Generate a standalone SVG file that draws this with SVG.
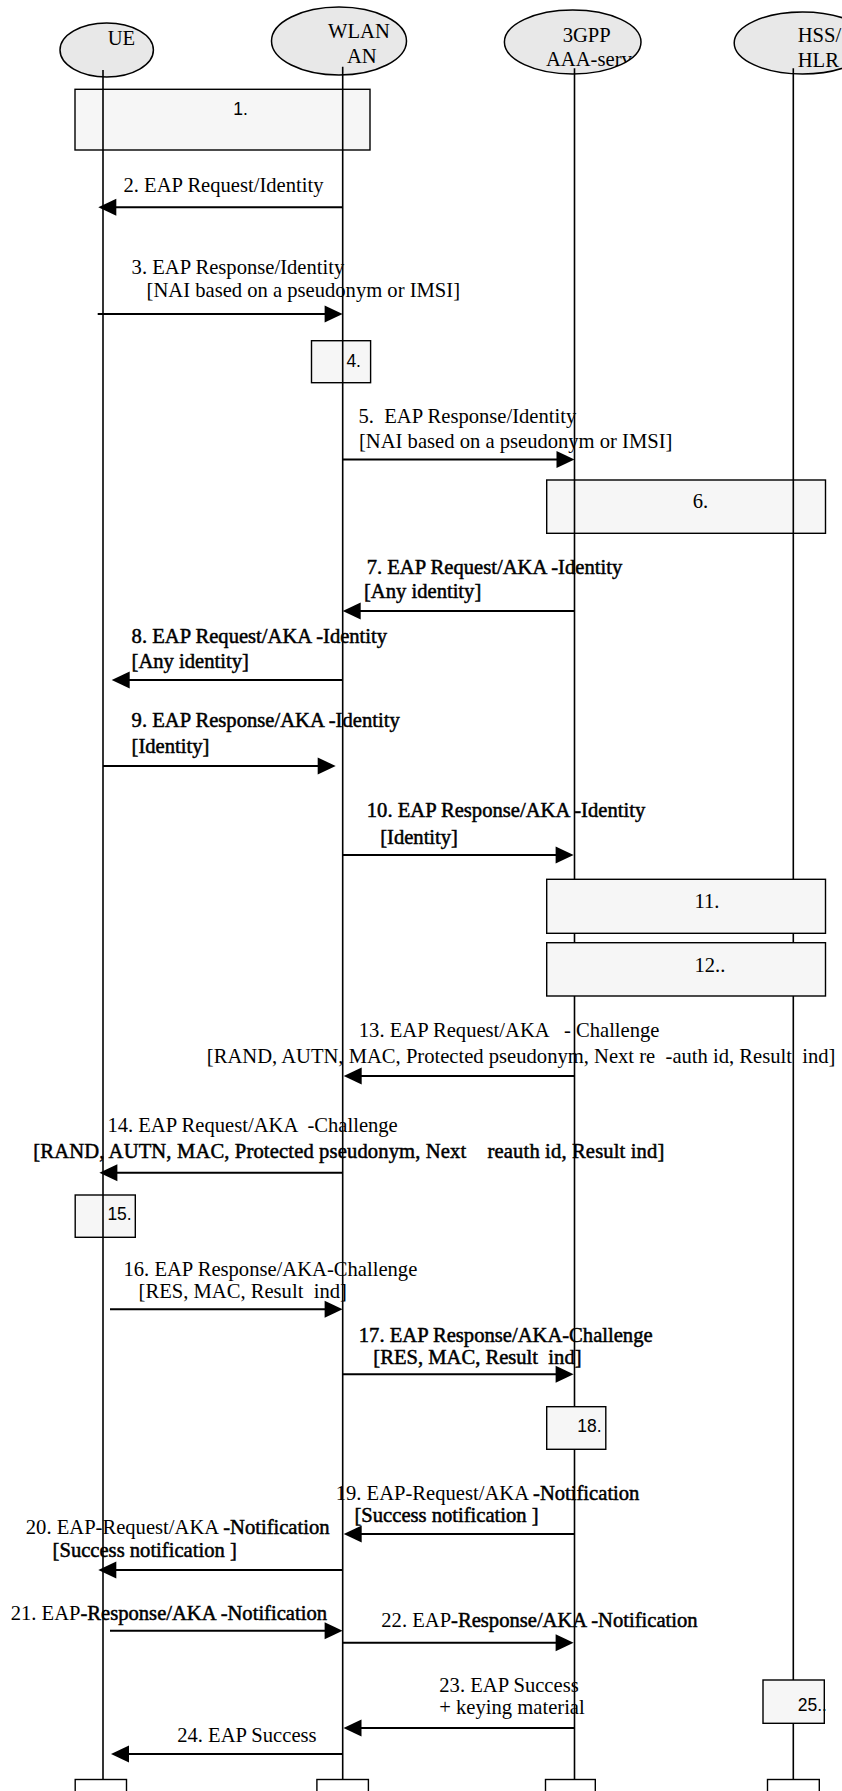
<svg xmlns="http://www.w3.org/2000/svg" width="842" height="1791" viewBox="0 0 842 1791">
<style>
text{font-family:"Liberation Serif","Times New Roman",serif;font-size:20.6px;fill:#000;white-space:pre}
.sans{font-family:"Liberation Sans",Arial,sans-serif;font-size:17.5px}
.dk{stroke:#000;stroke-width:0.5px}
.ell{fill:#e8e8e8;stroke:#000;stroke-width:1.5}
.box{fill:#f6f6f6;stroke:#000;stroke-width:1.4}
.end{fill:#fff;stroke:#000;stroke-width:1.4}
.life{stroke:#000;stroke-width:1.6;fill:none}
.msg{stroke:#000;stroke-width:2;fill:none;marker-end:url(#ah)}
</style>
<defs>
<marker id="ah" markerUnits="userSpaceOnUse" markerWidth="18" markerHeight="18" refX="8" refY="8.5" orient="auto" overflow="visible">
<path d="M0,0 L18,8.5 L0,17 Z" fill="#000"/>
</marker>
<clipPath id="cAAA"><ellipse cx="572.7" cy="42" rx="68.3" ry="32"/></clipPath>
</defs>
<rect width="842" height="1791" fill="#fff"/>

<g id="UE">
<ellipse class="ell" cx="106.7" cy="50" rx="46.7" ry="27"/>
<text x="107.7" y="45">UE</text>
</g>
<g id="WLAN_AN">
<ellipse class="ell" cx="339" cy="41" rx="67.5" ry="34"/>
<text x="328" y="38">WLAN</text>
<text x="347" y="62.7">AN</text>
</g>
<g id="AAA">
<ellipse class="ell" cx="572.7" cy="42" rx="68.3" ry="32"/>
<text x="562.7" y="41.7">3GPP</text>
<text x="546" y="66" clip-path="url(#cAAA)">AAA-serv</text>
</g>
<g id="HSS_HLR">
<ellipse class="ell" cx="802.5" cy="43" rx="68.3" ry="31"/>
<text x="797.7" y="41.7">HSS/</text>
<text x="797.7" y="66.7">HLR</text>
</g>

<g id="step1"><rect class="box" x="75" y="89.3" width="295" height="60.7"/><text class="sans" x="233.3" y="115">1.</text></g>
<g id="step4"><rect class="box" x="311.5" y="340.7" width="59.1" height="42"/><text class="sans" x="346.4" y="366.7">4.</text></g>
<g id="step6"><rect class="box" x="546.7" y="480" width="278.8" height="53.3"/><text x="692.8" y="508.3">6.</text></g>
<g id="step15"><rect class="box" x="75.2" y="1195" width="60.1" height="42.3"/><text class="sans" x="107.4" y="1220">15.</text></g>

<g id="lifelines">
<line class="life" x1="103" y1="70" x2="103" y2="1780"/>
<line class="life" x1="342.7" y1="66.7" x2="342.7" y2="1780"/>
<line class="life" x1="574.5" y1="68.3" x2="574.5" y2="1780"/>
<line class="life" x1="793.3" y1="68.3" x2="793.3" y2="1780"/>
</g>

<g id="step11"><rect class="box" x="546.7" y="879.3" width="278.8" height="54"/><text x="694.4" y="908.3">11.</text></g>
<g id="step12"><rect class="box" x="546.7" y="942.7" width="278.8" height="53.3"/><text x="694.4" y="971.7">12..</text></g>
<g id="step18"><rect class="box" x="546.7" y="1406.7" width="59.1" height="42.6"/><text class="sans" x="577.3" y="1431.7">18.</text></g>
<g id="step25"><rect class="box" x="763" y="1680" width="61.3" height="43.3"/><text class="sans" x="797.7" y="1710.7">25..</text></g>

<g id="end_UE"><rect class="end" x="75.2" y="1779.5" width="51.3" height="30"/></g>
<g id="end_WLAN"><rect class="end" x="316.9" y="1779.5" width="51.5" height="30"/></g>
<g id="end_AAA"><rect class="end" x="545.5" y="1779.5" width="49.8" height="30"/></g>
<g id="end_HSS"><rect class="end" x="767.5" y="1779.5" width="51.8" height="30"/></g>

<g id="connectors">
<line class="msg" x1="342.7" y1="207.3" x2="108.3" y2="207.3"/>
<line class="msg" x1="97.7" y1="314" x2="332.6" y2="314"/>
<line class="msg" x1="342.7" y1="459.5" x2="564.5" y2="459.5"/>
<line class="msg" x1="574.5" y1="611" x2="352.7" y2="611"/>
<line class="msg" x1="342.7" y1="680" x2="121.7" y2="680"/>
<line class="msg" x1="103" y1="766" x2="325.7" y2="766"/>
<line class="msg" x1="342.7" y1="855" x2="563.6" y2="855"/>
<line class="msg" x1="574.5" y1="1076" x2="353.7" y2="1076"/>
<line class="msg" x1="342.7" y1="1172.7" x2="109.4" y2="1172.7"/>
<line class="msg" x1="110" y1="1309.3" x2="332.6" y2="1309.3"/>
<line class="msg" x1="342.7" y1="1374.3" x2="563.6" y2="1374.3"/>
<line class="msg" x1="574.5" y1="1534" x2="353.7" y2="1534"/>
<line class="msg" x1="342.7" y1="1570" x2="108.3" y2="1570"/>
<line class="msg" x1="110" y1="1630.7" x2="332.6" y2="1630.7"/>
<line class="msg" x1="342.7" y1="1642.7" x2="563.6" y2="1642.7"/>
<line class="msg" x1="574.5" y1="1728" x2="353.5" y2="1728"/>
<line class="msg" x1="342.7" y1="1754" x2="121" y2="1754"/>
</g>

<g id="labels">
<text x="123.5" y="191.7">2. EAP Request/Identity</text>
<text x="131.6" y="274">3. EAP Response/Identity</text>
<text x="146.6" y="296.7">[NAI based on a pseudonym or IMSI]</text>
<text x="358.5" y="423">5.  EAP Response/Identity</text>
<text x="359" y="447.5">[NAI based on a pseudonym or IMSI]</text>
<text class="dk" x="366.7" y="573.5">7. EAP Request/AKA -Identity</text>
<text class="dk" x="364" y="598">[Any identity]</text>
<text class="dk" x="131.6" y="642.7">8. EAP Request/AKA -Identity</text>
<text class="dk" x="131.6" y="668.3">[Any identity]</text>
<text class="dk" x="131.6" y="727.3">9. EAP Response/AKA -Identity</text>
<text class="dk" x="131.6" y="752.7">[Identity]</text>
<text class="dk" x="366.8" y="817.3">10. EAP Response/AKA -Identity</text>
<text class="dk" x="380.2" y="844">[Identity]</text>
<text x="358.8" y="1037.3">13. EAP Request/AKA   - Challenge</text>
<text x="206.8" y="1063.3">[RAND, AUTN, MAC, Protected pseudonym, Next re  -auth id, Result  ind]</text>
<text x="107.4" y="1131.7">14. EAP Request/AKA  -Challenge</text>
<text class="dk" x="33.3" y="1158.3" textLength="631">[RAND, AUTN, MAC, Protected pseudonym, Next    reauth id, Result ind]</text>
<text x="123.5" y="1276">16. EAP Response/AKA-Challenge</text>
<text x="138.6" y="1298.3">[RES, MAC, Result  ind]</text>
<text class="dk" x="358.8" y="1341.7">17. EAP Response/AKA-Challenge</text>
<text class="dk" x="373.3" y="1364">[RES, MAC, Result  ind]</text>
<text x="335.7" y="1500">19. EAP-Request/AKA <tspan class="dk">-Notification</tspan></text>
<text class="dk" x="354.5" y="1521.7">[Success notification ]</text>
<text x="25.8" y="1534">20. EAP-Request/AKA <tspan class="dk">-Notification</tspan></text>
<text class="dk" x="52.6" y="1556.7">[Success notification ]</text>
<text x="10.7" y="1619.5">21. EAP<tspan class="dk">-Response/AKA -Notification</tspan></text>
<text x="381.3" y="1626.7">22. EAP<tspan class="dk">-Response/AKA -Notification</tspan></text>
<text x="439.3" y="1691.7">23. EAP Success</text>
<text x="439.3" y="1714">+ keying material</text>
<text x="177.2" y="1742">24. EAP Success</text>
</g>
</svg>
